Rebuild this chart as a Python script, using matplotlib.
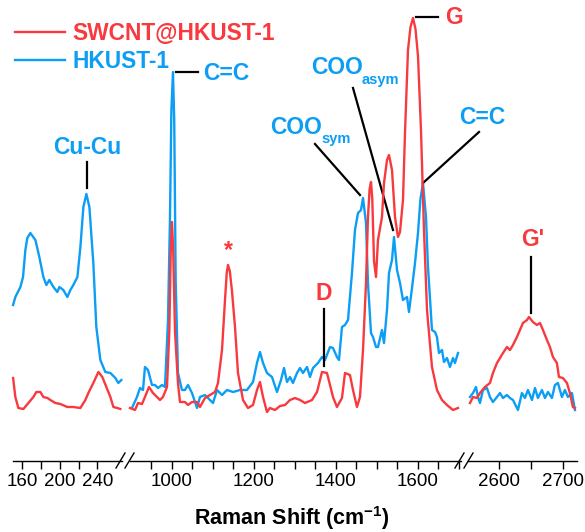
import matplotlib
matplotlib.use("Agg")
import matplotlib.pyplot as plt
from matplotlib.lines import Line2D

plt.rcParams['font.family'] = ['Liberation Sans', 'DejaVu Sans']
plt.rcParams['mathtext.fontset'] = 'custom'
plt.rcParams['mathtext.rm'] = 'Liberation Sans'
plt.rcParams['mathtext.bf'] = 'Liberation Sans:bold'

RED = '#F83A3E'
BLUE = '#0C9EF5'

# ---- low wavenumber segment (cm-1, a.u.) ----
w1_blue = [150.1, 152.5, 157.9, 160.7, 163.2, 165.3, 168.5, 173.9, 178.1, 182.4, 185.6, 188.8,
           193.1, 197.3, 199.5, 203.7, 208.0, 211.2, 214.4, 218.7, 221.9, 225.1, 228.3, 231.5,
           235.7, 238.9, 243.2, 248.5, 253.9, 259.2, 262.4, 265.6]
i1_blue = [156, 164, 174, 184, 211, 223, 228, 221, 204, 184, 176, 181,
           174, 169, 174, 171, 164, 171, 176, 184, 214, 254, 267, 254,
           198, 134, 101, 89, 88, 83, 78, 81]
w1_red = [150.1, 152.5, 155.7, 161.1, 166.4, 171.7, 174.9, 179.2, 182.4, 186.7, 189.9, 195.2,
          200.5, 208.0, 214.4, 221.9, 227.2, 230.4, 235.7, 241.1, 245.3, 249.6, 253.9, 257.1,
          261.3, 264.5]
i1_red = [83, 64, 53, 52, 58, 64, 69, 69, 64, 63, 61, 58,
          57, 54, 54, 53, 61, 68, 78, 89, 84, 74, 64, 54,
          53, 52]

# ---- middle segment ----
w2_blue = [902.4, 914.6, 922.0, 929.3, 934.1, 941.5, 951.2, 958.5, 965.9, 975.6, 982.9, 990.2,
           995.0, 998.5, 1002.4, 1005.5, 1009.0, 1014.6, 1024.4, 1031.7, 1039.0, 1048.8, 1061.0,
           1068.3, 1080.5, 1092.7, 1100.0, 1109.8, 1122.0, 1134.1, 1148.8, 1165.9, 1182.9, 1197.6,
           1207.3, 1214.6, 1222.0, 1231.7, 1243.9, 1256.1, 1265.9, 1273.2, 1280.5, 1287.8, 1295.1,
           1304.9, 1312.2, 1319.5, 1329.3, 1336.6, 1343.9, 1356.1, 1365.9, 1373.2, 1385.4, 1392.7,
           1402.4, 1407.3, 1414.6, 1422.0, 1429.3, 1439.0, 1446.3, 1453.7, 1461.0, 1465.9, 1473.2,
           1478.0, 1485.4, 1490.2, 1497.6, 1502.4, 1512.2, 1517.1, 1524.4, 1529.3, 1536.6, 1541.5,
           1548.8, 1556.1, 1563.4, 1573.2, 1578.0, 1585.4, 1592.7, 1600.0, 1606.0, 1612.2, 1619.5,
           1624.4, 1634.1, 1641.5, 1646.3, 1651.2, 1658.5, 1663.4, 1670.7, 1678.0, 1685.4, 1690.2,
           1697.6]
i2_blue = [53, 64, 73, 71, 94, 91, 76, 76, 73, 76, 74, 140,
           240, 350, 389, 340, 180, 88, 71, 71, 76, 68, 53,
           64, 66, 61, 58, 71, 66, 71, 69, 71, 71, 79,
           98, 109, 98, 88, 84, 69, 81, 93, 79, 84, 78,
           88, 93, 88, 94, 84, 93, 98, 104, 101, 114, 113,
           104, 101, 134, 136, 141, 188, 231, 248, 251, 263, 238,
           178, 128, 124, 114, 114, 131, 118, 151, 188, 201, 224,
           191, 178, 161, 164, 149, 173, 198, 228, 262, 278, 244,
           194, 131, 129, 124, 108, 111, 99, 103, 94, 103, 98,
           108]
w2_red = [897.6, 909.8, 917.1, 926.8, 934.1, 943.9, 953.7, 963.4, 970.7, 978.0, 987.8, 993.5,
          997.0, 1000.0, 1003.0, 1007.3, 1014.6, 1019.5, 1031.7, 1039.0, 1048.8, 1061.0, 1068.3,
          1080.5, 1092.7, 1104.9, 1112.2, 1122.0, 1129.3, 1133.5, 1136.6, 1141.0, 1146.3, 1153.7,
          1161.0, 1173.2, 1185.4, 1197.6, 1207.3, 1214.6, 1222.0, 1231.7, 1239.0, 1251.2, 1263.4,
          1275.6, 1287.8, 1300.0, 1312.2, 1324.4, 1341.5, 1353.7, 1365.9, 1378.0, 1385.4, 1392.7,
          1402.4, 1414.6, 1422.0, 1434.1, 1441.5, 1451.2, 1458.5, 1465.9, 1473.2, 1478.0, 1482.0,
          1485.4, 1488.5, 1492.7, 1497.6, 1502.4, 1512.2, 1517.1, 1524.4, 1529.3, 1536.6, 1543.9,
          1551.2, 1556.1, 1563.4, 1568.3, 1575.6, 1581.7, 1587.8, 1593.9, 1600.0, 1607.3, 1614.6,
          1622.0, 1634.1, 1646.3, 1658.5, 1670.7, 1685.4, 1697.6]
i2_red = [53, 51, 58, 57, 64, 74, 68, 64, 61, 64, 74, 130,
          210, 239, 210, 130, 78, 59, 59, 56, 59, 59, 54,
          63, 66, 69, 78, 111, 161, 188, 196, 190, 170, 134,
          88, 61, 53, 56, 71, 79, 64, 49, 53, 51, 55,
          56, 61, 63, 61, 58, 61, 69, 89, 88, 76, 64,
          54, 63, 88, 86, 71, 54, 64, 111, 178, 244, 272,
          279, 262, 200, 184, 221, 244, 278, 301, 306, 291, 244,
          224, 229, 261, 328, 411, 434, 443, 432, 405, 331, 231,
          151, 94, 71, 61, 56, 51, 53]

# ---- high wavenumber segment ----
w3_red = [2554.7, 2559.4, 2565.6, 2570.3, 2578.1, 2585.9, 2590.6, 2596.9, 2601.6, 2606.3, 2612.5,
          2617.2, 2621.9, 2628.1, 2632.8, 2637.5, 2643.8, 2646.9, 2653.1, 2659.4, 2664.1, 2668.8,
          2675.0, 2679.7, 2684.4, 2690.6, 2693.8, 2700.0, 2706.3, 2710.9, 2715.6, 2718.8]
i3_red = [58, 64, 63, 68, 74, 78, 88, 98, 103, 108, 114,
          111, 116, 124, 131, 138, 141, 144, 139, 136, 138, 131,
          121, 114, 104, 98, 84, 83, 78, 68, 54, 53]
w3_blue = [2554.7, 2559.4, 2564.1, 2567.2, 2570.3, 2575.0, 2581.3, 2585.9, 2590.6, 2596.9, 2601.6,
           2606.3, 2612.5, 2617.2, 2621.9, 2629.7, 2635.9, 2640.6, 2645.3, 2651.6, 2656.3, 2660.9,
           2667.2, 2671.9, 2676.6, 2682.8, 2687.5, 2692.2, 2698.4, 2703.1, 2707.8, 2714.1, 2718.8]
i3_blue = [64, 68, 74, 64, 58, 71, 73, 64, 59, 64, 68,
           63, 66, 63, 61, 51, 68, 63, 71, 61, 73, 63,
           71, 63, 69, 63, 76, 78, 64, 71, 64, 68, 51]

# figure: 585 x 532 px, axes laid out in pixels
W, H = 585, 532
fig = plt.figure(figsize=(W / 100, H / 100), dpi=100)

def px_axes(x0, x1, top=0, bottom=461):
    return fig.add_axes([x0 / W, 1 - bottom / H, (x1 - x0) / W, (bottom - top) / H])

ax1 = px_axes(13, 122)
ax2 = px_axes(130, 461)
ax3 = px_axes(468, 577)

ax1.set_xlim(150, 266.3)
ax2.set_xlim(897.6, 1704.9)
ax3.set_xlim(2551.6, 2722)

segments = [(ax1, w1_red, i1_red, w1_blue, i1_blue),
            (ax2, w2_red, i2_red, w2_blue, i2_blue),
            (ax3, w3_red, i3_red, w3_blue, i3_blue)]
for ax, wr, ir, wb, ib in segments:
    ax.plot(wb, ib, color=BLUE, lw=1.7, zorder=2, clip_on=False, solid_joinstyle='round')
    ax.plot(wr, ir, color=RED, lw=1.7, zorder=3, clip_on=False, solid_joinstyle='round')
    ax.set_ylim(0, 461)
    ax.patch.set_alpha(0)
    for s in ['top', 'left', 'right']:
        ax.spines[s].set_visible(False)
    ax.spines['bottom'].set_linewidth(1.0)
    ax.set_yticks([])
    ax.tick_params(axis='x', which='both', direction='out', length=6, width=1.0,
                   labelsize=13.5, pad=3)

ax1.set_xticks([160, 200, 240])
ax1.set_xticks([180, 220], minor=True)
ax2.set_xticks([1000, 1200, 1400, 1600])
ax2.set_xticks([950, 1050, 1100, 1150, 1250, 1300, 1350, 1450, 1500, 1550, 1650, 1700], minor=True)
ax3.set_xticks([2600, 2700])
ax3.set_xticks([2650], minor=True)

# break marks on the axis line
for x in [116, 125, 455, 464]:
    fig.add_artist(Line2D([x / W, (x + 9) / W], [1 - 468 / H, 1 - 453 / H],
                          color='black', lw=1.0))

fig.text(292 / W, 1 - 518 / H, r'Raman Shift (cm$^{\mathbf{-1}}$)', ha='center', va='center',
         fontsize=15.5, fontweight='bold')

# legend
handles = [Line2D([], [], color=RED, lw=1.7), Line2D([], [], color=BLUE, lw=1.7)]
leg = fig.legend(handles, ['SWCNT@HKUST-1', 'HKUST-1'], loc='upper left',
                 bbox_to_anchor=(15 / W, 1 - 22 / H), frameon=False, borderpad=0,
                 borderaxespad=0, handlelength=2.2, handletextpad=0.33, labelspacing=0.22,
                 prop={'weight': 'bold', 'size': 16.4})
for t, c in zip(leg.get_texts(), [RED, BLUE]):
    t.set_color(c)

# peak annotations
lab = dict(fontsize=16.5, fontweight='bold', ha='center', va='center')
sub = dict(fontsize=10.5, fontweight='bold', ha='center', va='center')
ax1.text(229.3, 314, 'Cu-Cu', color=BLUE, **lab)
ax1.plot([229.3, 229.3], [273, 299], color='black', lw=1.6)

ax2.text(1131.7, 388, 'C=C', color=BLUE, **lab)
ax2.plot([1009.8, 1063.4], [389, 389], color='black', lw=1.6)

ax2.text(1136.6, 210, '*', color=RED, **lab)

ax2.text(1370.7, 168, 'D', color=RED, **lab)
ax2.plot([1370.7, 1370.7], [95, 152], color='black', lw=1.6)

ax2.text(1302.4, 333, 'COO', color=BLUE, **lab)
ax2.text(1400, 322, 'sym', color=BLUE, **sub)
ax2.plot([1348.8, 1458.5], [317, 266], color='black', lw=1.6)

ax2.text(1403.7, 393, 'COO', color=BLUE, **lab)
ax2.text(1507.3, 381, 'asym', color=BLUE, **sub)
ax2.plot([1441.5, 1539.0], [373, 231], color='black', lw=1.6)

ax2.text(1687.8, 443, 'G', color=RED, **lab)
ax2.plot([1595.1, 1648.8], [444, 444], color='black', lw=1.6, clip_on=False)

ax2.text(1756, 344, 'C=C', color=BLUE, **lab)
ax2.plot([1748.8, 1612.2], [329, 278], color='black', lw=1.6, clip_on=False)

ax3.text(2653, 221, "G'", color=RED, **lab)
ax3.plot([2650, 2650], [148, 204], color='black', lw=1.6)

fig.savefig('out.png', dpi=100)
